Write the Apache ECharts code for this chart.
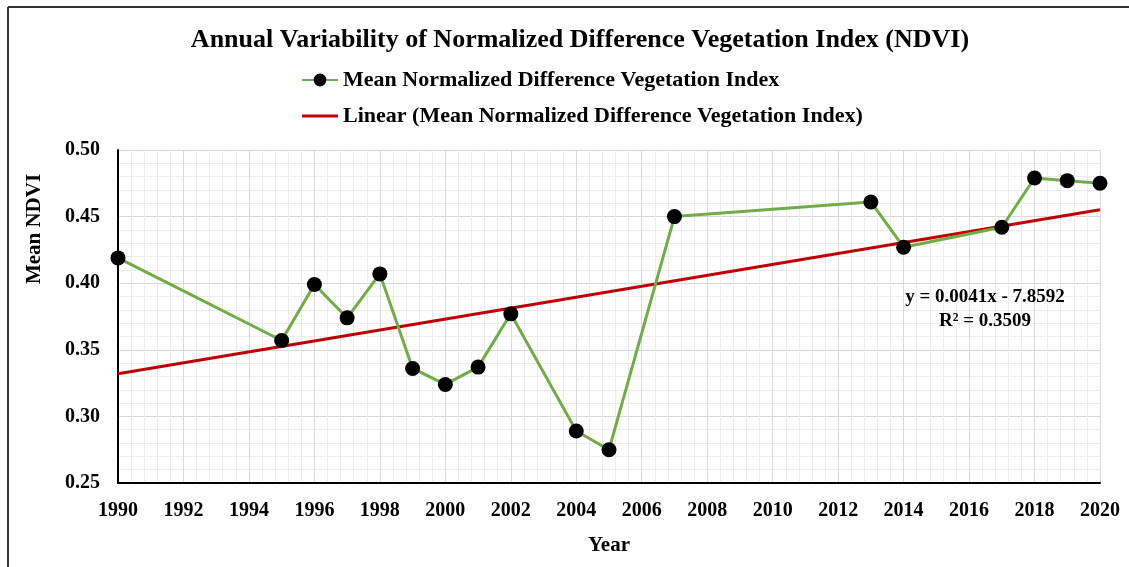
<!DOCTYPE html>
<html>
<head>
<meta charset="utf-8">
<script src="https://cdn.jsdelivr.net/npm/echarts@6/dist/echarts.min.js"></script>
<style>
  html, body { margin: 0; padding: 0; background: #fff; }
  #chart { width: 1129px; height: 567px; }
</style>
</head>
<body>
<div id="chart"></div>
<script>
// data
var years = [1990, 1995, 1996, 1997, 1998, 1999, 2000, 2001, 2002, 2004, 2005, 2007, 2013, 2014, 2017, 2018, 2019, 2020];
var ndvi = [0.419, 0.357, 0.399, 0.374, 0.407, 0.336, 0.324, 0.337, 0.377, 0.289, 0.275, 0.450, 0.461, 0.427, 0.442, 0.479, 0.477, 0.475];
var seriesName = 'Mean Normalized Difference Vegetation Index';
var trendName = 'Linear (Mean Normalized Difference Vegetation Index)';
var equationText = 'y = 0.0041x - 7.8592';
var r2Text = 'R² = 0.3509';

// least squares trend line
var n = years.length, sx = 0, sy = 0, sxx = 0, sxy = 0;
for (var i = 0; i < n; i++) {
  sx += years[i]; sy += ndvi[i];
  sxx += years[i] * years[i]; sxy += years[i] * ndvi[i];
}
var slope = (n * sxy - sx * sy) / (n * sxx - sx * sx);
var icpt = (sy - slope * sx) / n;
var trend = [[1990, slope * 1990 + icpt], [2020, slope * 2020 + icpt]];

var font = '"Liberation Serif", "Times New Roman", serif';
var chart = echarts.init(document.getElementById('chart'));
chart.setOption({
  animation: false,
  backgroundColor: '#fff',
  title: [
    {
      text: 'Annual Variability of Normalized Difference Vegetation Index (NDVI)',
      left: 575,
      textAlign: 'center',
      top: 22,
      textStyle: { fontFamily: font, fontSize: 26, fontWeight: 'bold', color: '#000' }
    },
    {
      text: equationText + '\n' + r2Text,
      left: 985,
      textAlign: 'center',
      top: 285,
      padding: 0,
      textStyle: { fontFamily: font, fontSize: 19, fontWeight: 'bold', color: '#000', lineHeight: 24, align: 'center' }
    }
  ],
  legend: {
    orient: 'vertical',
    left: 296,
    top: 64,
    itemGap: 14,
    itemWidth: 36,
    itemHeight: 16,
    textStyle: { fontFamily: font, fontSize: 22, fontWeight: 'bold', color: '#000' },
    data: [
      { name: seriesName },
      { name: trendName, icon: 'path://M0,7 L36,7 L36,10 L0,10 Z' }
    ]
  },
  grid: { left: 118, right: 29, top: 150, bottom: 84 },
  xAxis: {
    type: 'value',
    min: 1990, max: 2020, interval: 2,
    name: 'Year',
    nameLocation: 'middle',
    nameGap: 52,
    nameTextStyle: { fontFamily: font, fontSize: 21, fontWeight: 'bold', color: '#000' },
    axisLine: { lineStyle: { color: '#000', width: 2 } },
    axisTick: { show: false },
    axisLabel: {
      margin: 18, fontFamily: font, fontSize: 20, fontWeight: 'bold', color: '#000',
      formatter: function (v) { return String(v); }
    },
    splitLine: { show: true, lineStyle: { color: '#d9d9d9', width: 1 } },
    minorTick: { show: false, splitNumber: 5 },
    minorSplitLine: { show: true, lineStyle: { color: '#ececec', width: 1 } }
  },
  yAxis: {
    type: 'value',
    min: 0.25, max: 0.5, interval: 0.05,
    axisLine: { show: true, lineStyle: { color: '#000', width: 2 } },
    axisTick: { show: false },
    axisLabel: {
      margin: 18, fontFamily: font, fontSize: 20, fontWeight: 'bold', color: '#000',
      formatter: function (v) { return v.toFixed(2); }
    },
    splitLine: { show: true, lineStyle: { color: '#d9d9d9', width: 1 } },
    minorTick: { show: false, splitNumber: 5 },
    minorSplitLine: { show: true, lineStyle: { color: '#ececec', width: 1 } }
  },
  graphic: [
    { type: 'line', shape: { x1: 8, y1: 7, x2: 1129, y2: 7 }, style: { stroke: '#333', lineWidth: 2 } },
    { type: 'line', shape: { x1: 8, y1: 7, x2: 8, y2: 567 }, style: { stroke: '#333', lineWidth: 2 } },
    {
      type: 'text', x: 35, y: 229, rotation: Math.PI / 2,
      style: { text: 'Mean NDVI', font: 'bold 21px ' + font, fill: '#000', lineWidth: 0, align: 'center', verticalAlign: 'middle' }
    }
  ],
  series: [
    {
      name: trendName,
      type: 'line',
      data: trend,
      symbol: 'none',
      lineStyle: { color: '#c00000', width: 3 },
      itemStyle: { color: '#c00000' },
      z: 2
    },
    {
      name: seriesName,
      type: 'line',
      data: years.map(function (y, i) { return [y, ndvi[i]]; }),
      symbol: 'circle',
      symbolSize: 15,
      lineStyle: { color: '#70ad47', width: 3 },
      itemStyle: { color: '#000' },
      z: 3
    }
  ]
});
</script>
</body>
</html>
